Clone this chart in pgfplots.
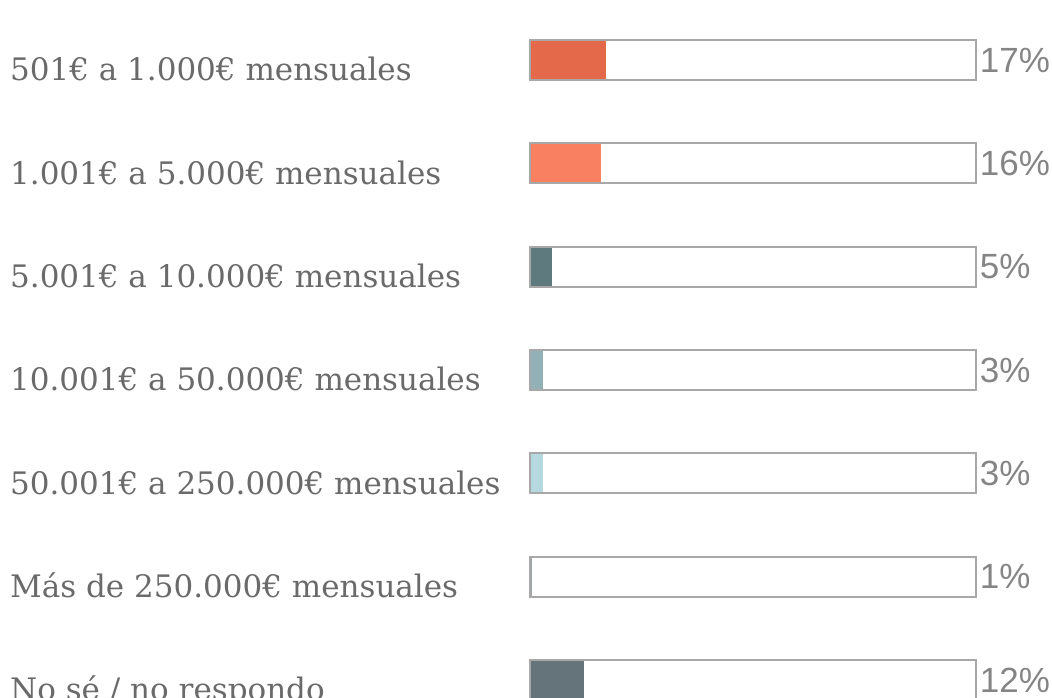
\documentclass[border=0pt]{standalone}
\usepackage{pgfplots}
\pgfplotsset{compat=1.18}
\usepackage{fontspec}
\setmainfont{DejaVu Serif}
\newfontfamily\pctfont{Liberation Sans}
\definecolor{labgray}{HTML}{6A6A6A}
\definecolor{pctgray}{HTML}{858585}
\definecolor{boxgray}{HTML}{A8A8A8}
\definecolor{cA}{HTML}{E4694A}
\definecolor{cB}{HTML}{FA8062}
\definecolor{cC}{HTML}{5E7A7E}
\definecolor{cD}{HTML}{92B1B6}
\definecolor{cE}{HTML}{B6D9E0}
\definecolor{cF}{HTML}{9AA3A5}
\definecolor{cG}{HTML}{65747A}
\begin{document}
\begin{tikzpicture}
\path[use as bounding box] (0,0) rectangle (1052pt,697pt);
\clip (0,0) rectangle (1052pt,697pt);
\begin{axis}[
  at={(530pt,688.67pt)}, anchor=north west,
  x=4.46pt, y=103.33pt,
  xmin=0, xmax=100, ymin=-0.5, ymax=6.5,
  y dir=reverse,
  clip=false,
  axis line style={draw=none},
  tick style={draw=none},
  xtick=\empty,
  ytick={0,1,2,3,4,5,6},
  yticklabels={501€ a 1.000€ mensuales,1.001€ a 5.000€ mensuales,5.001€ a 10.000€ mensuales,10.001€ a 50.000€ mensuales,50.001€ a 250.000€ mensuales,Más de 250.000€ mensuales,No sé / no respondo},
  yticklabel style={anchor=base west, xshift=-520pt, yshift=-21pt, inner sep=0pt,
    font=\fontsize{31}{36}\selectfont, text=labgray},
]
% white background boxes
\addplot[xbar, bar shift=0pt, bar width=40pt, fill=white, draw=none]
  coordinates {(100,0) (100,1) (100,2) (100,3) (100,4) (100,5) (100,6)};
% filled values
\addplot[xbar, bar shift=0pt, bar width=40pt, fill=cA, draw=none] coordinates {(17,0)};
\addplot[xbar, bar shift=0pt, bar width=40pt, fill=cB, draw=none] coordinates {(16,1)};
\addplot[xbar, bar shift=0pt, bar width=40pt, fill=cC, draw=none] coordinates {(5,2)};
\addplot[xbar, bar shift=0pt, bar width=40pt, fill=cD, draw=none] coordinates {(3,3)};
\addplot[xbar, bar shift=0pt, bar width=40pt, fill=cE, draw=none] coordinates {(3,4)};
\addplot[xbar, bar shift=0pt, bar width=40pt, fill=cF, draw=none] coordinates {(0.5,5)};
\addplot[xbar, bar shift=0pt, bar width=40pt, fill=cG, draw=none] coordinates {(12,6)};
% outlines with percentage labels
\addplot[xbar, bar shift=0pt, bar width=40pt, fill=none, draw=boxgray, line width=1.8pt,
  point meta=explicit symbolic,
  nodes near coords,
  nodes near coords style={anchor=west, inner sep=0pt, xshift=3pt,
    font=\pctfont\fontsize{35}{40}\selectfont, text=pctgray}]
  coordinates {(100,0)[17\%] (100,1)[16\%] (100,2)[5\%] (100,3)[3\%] (100,4)[3\%] (100,5)[1\%] (100,6)[12\%]};
\end{axis}
\end{tikzpicture}
\end{document}
